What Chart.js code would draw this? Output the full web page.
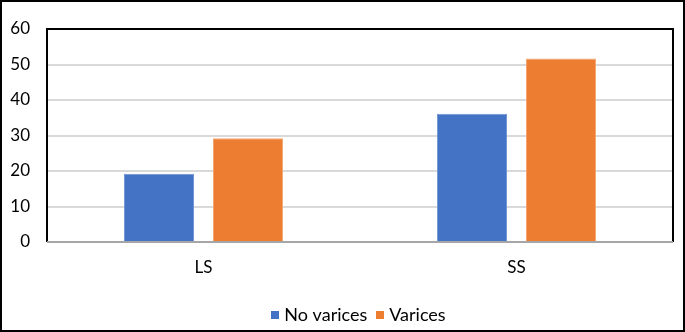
<!DOCTYPE html>
<html><head><meta charset="utf-8">
<script src="https://cdn.jsdelivr.net/npm/chart.js@4"></script>
<style>html,body{margin:0;padding:0;background:#fff;}canvas{display:block;}</style>
</head><body>
<canvas id="c" width="685" height="332"></canvas>
<script>
const categories = ["LS", "SS"];
const seriesNames = ["No varices", "Varices"];
const noVarices = [19.2, 36.1];
const varices = [29.2, 51.7];
const yTicks = [0, 10, 20, 30, 40, 50, 60];

const COLORS = ['#4472C4', '#ED7D31'];
const EDGES = ['#7396d6', '#f5a670'];

function swatch(color) {
  const c = document.createElement('canvas');
  c.width = 8; c.height = 8;
  const x = c.getContext('2d');
  x.fillStyle = color; x.fillRect(0, 0, 8, 8);
  return c;
}
const swatches = COLORS.map(swatch);

const frame = {
  id: 'frame',
  afterLayout(chart) {
    const lg = chart.legend;
    const a = chart.chartArea;
    // center legend on plot area rather than full canvas
    const shift = (a.left + a.right) / 2 - (lg.left + lg.right) / 2;
    lg.left += shift; lg.right += shift;
    lg.top += 2; lg.bottom += 2;
  },
  afterDraw(chart) {
    const ctx = chart.ctx, a = chart.chartArea;
    ctx.save();
    ctx.lineWidth = 2;
    ctx.strokeStyle = '#000';
    ctx.strokeRect(1, 1, 683, 330);
    ctx.beginPath();
    ctx.moveTo(a.left, a.bottom);
    ctx.lineTo(a.left, a.top);
    ctx.lineTo(a.right, a.top);
    ctx.lineTo(a.right, a.bottom);
    ctx.stroke();
    ctx.strokeStyle = '#a6a6a6';
    ctx.beginPath();
    ctx.moveTo(a.left, a.bottom);
    ctx.lineTo(a.right, a.bottom);
    ctx.stroke();
    ctx.restore();
  }
};

const font = { family: 'Lato', size: 17 };

new Chart(document.getElementById('c'), {
  type: 'bar',
  data: {
    labels: categories,
    datasets: [
      { label: seriesNames[0], data: noVarices, backgroundColor: COLORS[0], borderColor: EDGES[0], borderWidth: 1 },
      { label: seriesNames[1], data: varices, backgroundColor: COLORS[1], borderColor: EDGES[1], borderWidth: 1 }
    ]
  },
  options: {
    responsive: false,
    animation: false,
    devicePixelRatio: 1,
    categoryPercentage: 0.569,
    barPercentage: 0.787,
    layout: { padding: { top: 29, left: 0, right: 12, bottom: 0 } },
    plugins: {
      legend: {
        position: 'bottom',
        labels: {
          usePointStyle: true,
          boxWidth: 1, boxHeight: 8, padding: 12,
          color: '#000',
          font: { family: 'Lato', size: 18 },
          generateLabels(chart) {
            const items = Chart.defaults.plugins.legend.labels.generateLabels(chart);
            items.forEach((it, i) => { it.pointStyle = swatches[i]; });
            return items;
          }
        }
      },
      tooltip: { enabled: false }
    },
    scales: {
      x: {
        grid: { display: false, drawTicks: false },
        border: { display: false },
        ticks: { color: '#000', font: font, padding: 15 },
        afterFit(s) { s.height = 50; }
      },
      y: {
        min: 0, max: 60,
        afterBuildTicks(s) { s.ticks = yTicks.map(v => ({ value: v })); },
        grid: { color: '#d9d9d9', lineWidth: 2, drawTicks: false },
        border: { display: false },
        ticks: { color: '#000', font: font, padding: 17 },
        afterFit(s) { s.width = 47; }
      }
    }
  },
  plugins: [frame]
});
</script>
</body></html>
